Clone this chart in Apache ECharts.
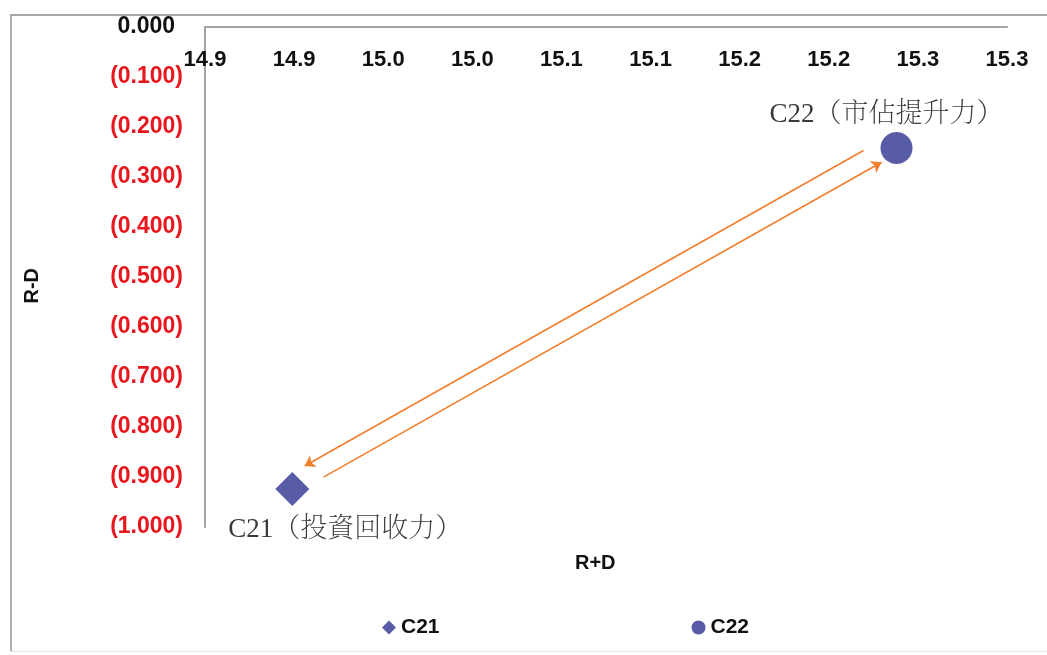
<!DOCTYPE html>
<html>
<head>
<meta charset="utf-8">
<script src="https://cdn.jsdelivr.net/npm/echarts@6/dist/echarts.min.js"></script>
<style>
  html, body { margin: 0; padding: 0; background: #ffffff; }
  #chart { width: 1047px; height: 655px; }
</style>
</head>
<body>
<div id="chart"></div>
<script>
// Two factors positioned by R+D (horizontal) and R-D (vertical)
const seriesNames = ['C21', 'C22'];
const pointLabels = ['C21（投資回收力）', 'C22（市佔提升力）'];
const pointSymbols = ['diamond', 'circle'];
const rdSum  = [14.899, 15.238];   // R+D
const rdDiff = [-0.924, -0.242];   // R-D

// Axis ranges and the tick labels printed along them
const xRange = { min: 14.85, max: 15.30, step: 0.05 };
const yRange = { min: -1.0, max: 0.0, step: 0.1 };
const xTickLabels = ['14.9', '14.9', '15.0', '15.0', '15.1', '15.1', '15.2', '15.2', '15.3', '15.3'];
const yTickLabels = ['0.000', '(0.100)', '(0.200)', '(0.300)', '(0.400)', '(0.500)',
                     '(0.600)', '(0.700)', '(0.800)', '(0.900)', '(1.000)'];

const markColor = '#585ca6';
const arrowColor = '#f27e2c';
const sansBold = { fontFamily: '"Liberation Sans", Arial, sans-serif', fontWeight: 'bold' };
const labelFont = '"Liberation Serif", "Noto Serif CJK TC", "Noto Sans CJK TC", serif';

const chart = echarts.init(document.getElementById('chart'), null, { renderer: 'canvas' });

const pointSeries = seriesNames.map((name, i) => ({
  name: name,
  type: 'scatter',
  symbol: pointSymbols[i],
  symbolSize: i === 0 ? 34 : 32,
  data: [[rdSum[i], rdDiff[i]]],
  itemStyle: { color: markColor, opacity: 1 },
  emphasis: { disabled: true },
  z: 5,
  label: {
    show: true,
    formatter: pointLabels[i],
    position: i === 0 ? 'bottom' : 'top',
    distance: i === 0 ? 10 : 4,
    offset: i === 0 ? [53, 0] : [-10, 0],
    color: '#3a3a3a',
    fontFamily: labelFont,
    fontWeight: 'lighter',
    fontSize: 27
  }
}));

chart.setOption({
  animation: false,
  backgroundColor: '#ffffff',
  grid: { left: 205, right: 40, top: 27, bottom: 128, containLabel: false },
  xAxis: {
    type: 'value',
    position: 'top',
    min: xRange.min,
    max: xRange.max,
    interval: xRange.step,
    axisLine: { show: true, onZero: false, lineStyle: { color: '#a3a3a3', width: 2 } },
    axisTick: { show: false },
    splitLine: { show: false },
    axisLabel: {
      inside: true,
      margin: 22,
      color: '#111111',
      fontSize: 22,
      ...sansBold,
      formatter: v => xTickLabels[Math.round((v - xRange.min) / xRange.step)]
    }
  },
  yAxis: {
    type: 'value',
    min: yRange.min,
    max: yRange.max,
    interval: yRange.step,
    axisLine: { show: true, onZero: false, lineStyle: { color: '#a3a3a3', width: 2 } },
    axisTick: { show: false },
    splitLine: { show: false },
    axisLabel: {
      margin: 22,
      formatter: v => {
        const idx = Math.round((yRange.max - v) / yRange.step);
        return idx === 0 ? '{z|' + yTickLabels[idx] + '}' : '{n|' + yTickLabels[idx] + '}';
      },
      rich: {
        z: { color: '#111111', fontSize: 23, ...sansBold, padding: [0, 8, 0, 0] },
        n: { color: '#e8161d', fontSize: 23, ...sansBold }
      }
    }
  },
  legend: {
    left: 377,
    top: 612,
    itemWidth: 14,
    itemHeight: 14,
    itemGap: 252,
    selectedMode: false,
    data: seriesNames.map((n, i) => ({ name: n, icon: pointSymbols[i] })),
    textStyle: { color: '#111111', fontSize: 21, ...sansBold }
  },
  graphic: [
    { type: 'line', shape: { x1: 10, y1: 15, x2: 1047, y2: 15 }, style: { stroke: '#a6a6a6', lineWidth: 2 }, silent: true },
    { type: 'line', shape: { x1: 11, y1: 15, x2: 11, y2: 652 }, style: { stroke: '#b0b0b0', lineWidth: 2 }, silent: true },
    { type: 'line', shape: { x1: 10, y1: 651.5, x2: 1047, y2: 651.5 }, style: { stroke: '#e4e4e4', lineWidth: 1 }, silent: true },
    { type: 'text', left: 22, top: 268, rotation: Math.PI / 2,
      style: { text: 'R-D', fill: '#111111', fontSize: 20, ...sansBold }, silent: true },
    { type: 'text', left: 575, top: 553,
      style: { text: 'R+D', fill: '#111111', fontSize: 20, ...sansBold }, silent: true }
  ],
  series: pointSeries
});

// Paired arrows running between the two factors, offset to either side of the
// line joining them (offsets in pixels, ends trimmed back from the markers).
function arrowPath(from, to, trimStart, trimEnd, side) {
  const a = chart.convertToPixel({ gridIndex: 0 }, from);
  const b = chart.convertToPixel({ gridIndex: 0 }, to);
  const dx = b[0] - a[0], dy = b[1] - a[1];
  const len = Math.hypot(dx, dy);
  const d = [dx / len, dy / len];
  const n = [d[1], -d[0]];
  const p0 = [a[0] + d[0] * trimStart + n[0] * side, a[1] + d[1] * trimStart + n[1] * side];
  const p1 = [b[0] - d[0] * trimEnd + n[0] * side, b[1] - d[1] * trimEnd + n[1] * side];
  return [chart.convertFromPixel({ gridIndex: 0 }, p0), chart.convertFromPixel({ gridIndex: 0 }, p1)];
}

const c21 = [rdSum[0], rdDiff[0]];
const c22 = [rdSum[1], rdDiff[1]];

chart.setOption({
  series: pointSeries.concat([{
    type: 'lines',
    coordinateSystem: 'cartesian2d',
    symbol: ['none', 'arrow'],
    symbolSize: 10,
    silent: true,
    z: 3,
    lineStyle: { color: arrowColor, width: 1.6, opacity: 1, curveness: 0 },
    data: [
      { coords: arrowPath(c22, c21, 30, 22, -14) },
      { coords: arrowPath(c21, c22, 33, 20, -5) }
    ]
  }])
});
</script>
</body>
</html>
